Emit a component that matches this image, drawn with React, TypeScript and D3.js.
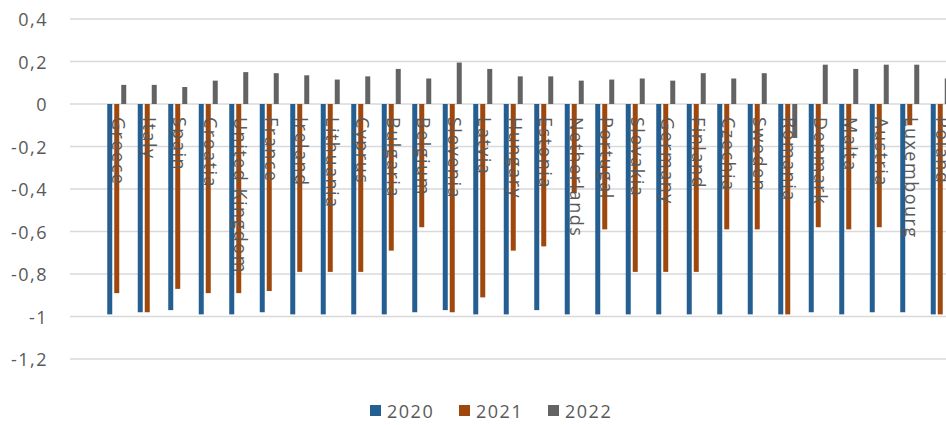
import React from "react";
import * as d3 from "d3";

const countries = [
  "Greece", "Italy", "Spain", "Croatia", "United Kingdom", "France", "Ireland",
  "Lithuania", "Cyprus", "Bulgaria", "Belgium", "Slovenia", "Latvia", "Hungary",
  "Estonia", "Netherlands", "Portugal", "Slovakia", "Germany", "Finland",
  "Czechia", "Sweden", "Romania", "Denmark", "Malta", "Austria", "Luxembourg", "Poland",
];

const series = ["2020", "2021", "2022"];

const values2020 = [
  -0.99, -0.98, -0.97, -0.99, -0.99, -0.98, -0.99, -0.99, -0.99, -0.99, -0.98, -0.97,
  -0.99, -0.99, -0.97, -0.99, -0.99, -0.99, -0.99, -0.99, -0.99, -0.99, -0.99, -0.98,
  -0.99, -0.98, -0.98, -0.99,
];
const values2021 = [
  -0.89, -0.98, -0.87, -0.89, -0.89, -0.88, -0.79, -0.79, -0.79, -0.69, -0.58, -0.98,
  -0.91, -0.69, -0.67, -0.42, -0.59, -0.79, -0.79, -0.79, -0.59, -0.59, -0.99, -0.58,
  -0.59, -0.58, -0.1, -0.99,
];
const values2022 = [
  0.09, 0.09, 0.08, 0.11, 0.15, 0.145, 0.135, 0.115, 0.13, 0.165, 0.12, 0.195, 0.165,
  0.13, 0.13, 0.11, 0.115, 0.12, 0.11, 0.145, 0.12, 0.145, -0.16, 0.185, 0.165, 0.185,
  0.185, 0.12,
];

const yTicks = [0.4, 0.2, 0, -0.2, -0.4, -0.6, -0.8, -1, -1.2];

const colors = ["#255E91", "#9E480E", "#636363"];

const W = 946;
const H = 425;
const FONT = "'Open Sans', 'Liberation Sans', sans-serif";
const TEXT = "#595959";

export default function App() {
  const seriesValues = [values2020, values2021, values2022];

  const y = d3.scaleLinear().domain([-1.2, 0.4]).range([359, 19]);

  // leading empty slot keeps the first group one band clear of the axis
  const slots = ["", ...countries];
  const band = 30.5;
  const x0 = d3
    .scaleBand<string>()
    .domain(slots)
    .range([71, 71 + slots.length * band])
    .padding(0);

  const x1 = d3
    .scaleBand<string>()
    .domain(series)
    .range([-9.5, 9.5])
    .paddingInner(2 / 7)
    .paddingOuter(0);

  const center = (c: string) => (x0(c) ?? 0) + x0.bandwidth() / 2;
  const fmt = (v: number) => String(Math.round(v * 10) / 10).replace(".", ",");

  const legendItems = [
    { label: series[0], x: 370 },
    { label: series[1], x: 459 },
    { label: series[2], x: 548 },
  ];

  return (
    <svg
      width={W}
      height={H}
      viewBox={`0 0 ${W} ${H}`}
      style={{ position: "absolute", left: 0, top: 0, background: "#fff" }}
    >
      <rect x={0} y={0} width={W} height={H} fill="#fff" />
      {/* gridlines */}
      {yTicks.map((t) => (
        <line
          key={`g${t}`}
          x1={70}
          x2={W}
          y1={y(t)}
          y2={y(t)}
          stroke="#d9d9d9"
          strokeWidth={1.5}
        />
      ))}
      {/* tick labels */}
      {yTicks.map((t) => (
        <text
          key={`t${t}`}
          x={48}
          y={y(t)}
          textAnchor="end"
          dominantBaseline="central"
          fontFamily={FONT}
          fontSize={18}
          letterSpacing={1.5}
          fill={TEXT}
        >
          {fmt(t)}
        </text>
      ))}
      {/* bars */}
      {countries.map((c, i) => (
        <g key={c} transform={`translate(${center(c)},0)`}>
          {series.map((s, k) => {
            const v = seriesValues[k][i];
            const y0 = y(0);
            const yv = y(v);
            return (
              <rect
                key={s}
                x={x1(s)}
                width={x1.bandwidth()}
                y={Math.min(y0, yv)}
                height={Math.abs(yv - y0)}
                fill={colors[k]}
              />
            );
          })}
        </g>
      ))}
      {/* category labels */}
      {countries.map((c) => (
        <text
          key={`l${c}`}
          transform={`translate(${center(c) - 4.5},117) rotate(90)`}
          fontFamily={FONT}
          fontSize={18}
          letterSpacing={1.5}
          fill={TEXT}
        >
          {c}
        </text>
      ))}
      {/* legend */}
      {legendItems.map((item, k) => (
        <g key={item.label}>
          <rect x={item.x} y={405} width={11} height={11} fill={colors[k]} />
          <text
            x={item.x + 17}
            y={411}
            dominantBaseline="central"
            fontFamily={FONT}
            fontSize={18}
            letterSpacing={1.5}
            fill={TEXT}
          >
            {item.label}
          </text>
        </g>
      ))}
    </svg>
  );
}
